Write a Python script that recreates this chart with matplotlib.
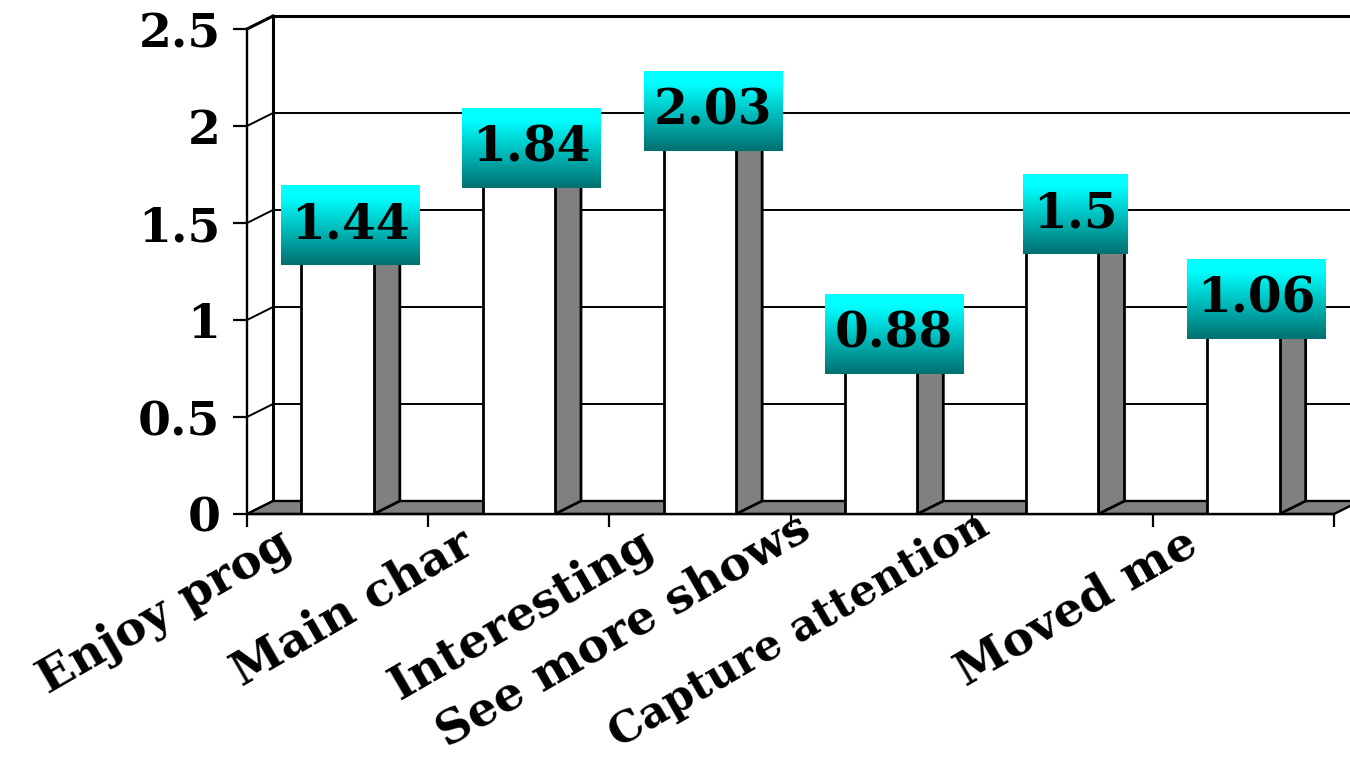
import numpy as np
import matplotlib.pyplot as plt
from matplotlib.patches import Polygon, Rectangle

categories = ['Enjoy prog', 'Main char', 'Interesting', 'See more shows',
              'Capture attention', 'Moved me']
scores = [1.44, 1.84, 2.03, 0.88, 1.5, 1.06]
y_ticks = [0, 0.5, 1, 1.5, 2, 2.5]
y_tick_labels = ['0', '0.5', '1', '1.5', '2', '2.5']

SERIF = 'DejaVu Serif'
GRAY = '#808080'
depth_x, depth_y = 0.1435, 0.067   # 3D offset of the back plane, in data units
half_w = 0.2                       # half width of a bar's front face
PX = 0.72                          # points per pixel at dpi 100

fig = plt.figure(figsize=(13.5, 7.6), dpi=100)
ax = fig.add_axes([247 / 1350, 246 / 760, 1087 / 1350, 485 / 760])
n = len(categories)
ymax = y_ticks[-1]
ax.set_xlim(0, n)
ax.set_ylim(0, ymax)
ax.set_autoscale_on(False)
ax.patch.set_visible(False)
for side in ['top', 'right']:
    ax.spines[side].set_visible(False)
for side in ['left', 'bottom']:
    ax.spines[side].set_linewidth(1.7)
    ax.spines[side].set_zorder(6)

# back wall gridlines and the matching diagonals on the left wall
for t in y_ticks:
    lw = 2.2 if t == ymax else 1.4
    ax.plot([depth_x, n + depth_x + 0.3], [t + depth_y] * 2, color='black',
            lw=lw, clip_on=False, zorder=1)
    ax.plot([0, depth_x], [t, t + depth_y], color='black', lw=lw,
            clip_on=False, zorder=1)
ax.plot([depth_x, depth_x], [depth_y, ymax + depth_y], color='black', lw=2.2,
        clip_on=False, zorder=1)

# floor
ax.add_patch(Polygon([(0, 0), (n, 0), (n + depth_x, depth_y), (depth_x, depth_y)],
                     closed=True, fc=GRAY, ec='black', lw=1.7, zorder=2,
                     clip_on=False))

# bars: white front and top, gray right side
for i, v in enumerate(scores):
    c = i + 0.5
    ax.add_patch(Polygon([(c + half_w, 0), (c + half_w + depth_x, depth_y),
                          (c + half_w + depth_x, v + depth_y), (c + half_w, v)],
                         closed=True, fc=GRAY, ec='black', lw=2.0, zorder=3))
    ax.add_patch(Polygon([(c - half_w, v), (c + half_w, v),
                          (c + half_w + depth_x, v + depth_y),
                          (c - half_w + depth_x, v + depth_y)],
                         closed=True, fc='white', ec='black', lw=2.0, zorder=3))
    ax.add_patch(Rectangle((c - half_w, 0), 2 * half_w, v, fc='white',
                           ec='black', lw=2.0, zorder=3))

# axes ticks and labels
ax.set_yticks(y_ticks, y_tick_labels)
ax.tick_params(axis='y', length=10, width=1.6, pad=9, labelsize=34)
for lbl in ax.get_yticklabels():
    lbl.set_fontfamily(SERIF)
    lbl.set_fontweight('bold')
ax.set_xticks(range(n + 1))
ax.set_xticklabels([])
ax.tick_params(axis='x', length=9.5, width=1.6)

renderer = fig.canvas.get_renderer()

# slanted category names; long names sit higher and further left,
# and shrink if they would run off the bottom
for i, name in enumerate(categories):
    lab = ax.annotate(name, xy=(i + 0.5, 0), xytext=(0, 0),
                      textcoords='offset points', rotation=30,
                      rotation_mode='anchor', ha='right', va='top',
                      fontfamily=SERIF, fontweight='bold',
                      annotation_clip=False)
    size = 34
    while True:
        lab.set_fontsize(size)
        lab.set_rotation(0)
        length = lab.get_window_extent(renderer).width
        lab.set_rotation(30)
        extra = max(0.0, length - 300)
        lab.xyann = ((-61 - 0.2 * extra) * PX, (-6 + 0.12 * extra) * PX)
        if lab.get_window_extent(renderer).y0 >= 1 or size <= 20:
            break
        size -= 0.5

# value labels on gradient boxes
rows = 100
frac = np.linspace(0, 1, rows)
frac = np.clip((frac - 0.15) / 0.85, 0, 1)
top_rgb = np.array([0, 255, 255]) / 255
bot_rgb = np.array([0, 112, 112]) / 255
grad = top_rgb[None, :] * (1 - frac[:, None]) + bot_rgb[None, :] * frac[:, None]
grad = grad[:, None, :]

inv = ax.transData.inverted()
for i, v in enumerate(scores):
    x = i + 0.5 + depth_x / 2
    y = v + depth_y / 2 + 0.015
    txt = ax.text(x, y, f'{v:g}', ha='center', va='center', fontsize=35,
                  fontfamily=SERIF, fontweight='bold', zorder=8)
    bb = txt.get_window_extent(renderer)
    cx, cy = ax.transData.transform((x, y))
    (l, b), (r, t) = inv.transform([(bb.x0 - 10, cy - 40), (bb.x1 + 10, cy + 40)])
    ax.imshow(grad, extent=[l, r, b, t], aspect='auto', interpolation='bilinear',
              zorder=7)

ax.set_xlim(0, n)
ax.set_ylim(0, ymax)
fig.savefig('out.png', dpi=100)
